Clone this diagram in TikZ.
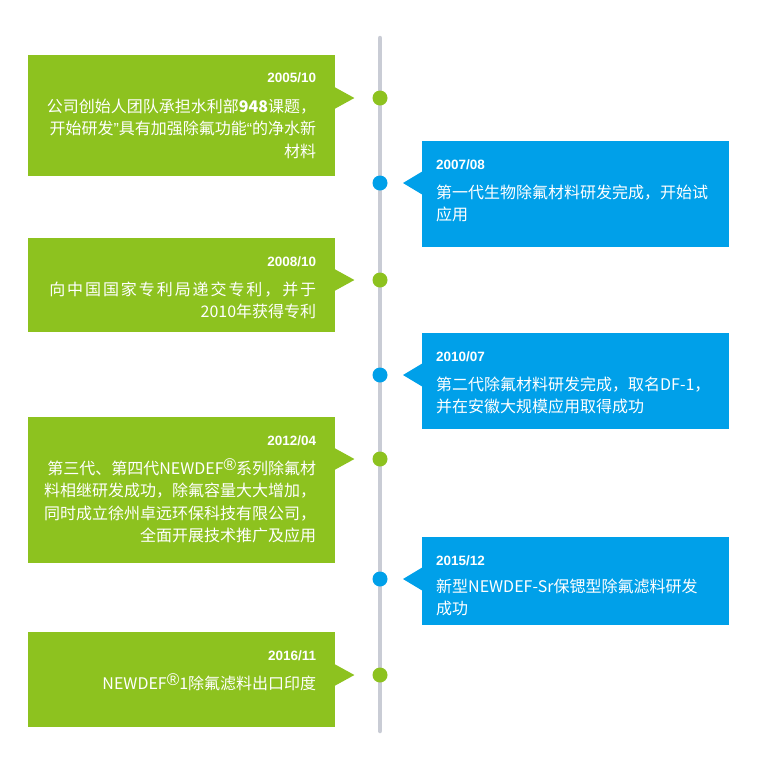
\documentclass[tikz,border=0pt]{standalone}
\usepackage{fontspec}
\setmainfont{Noto Sans CJK SC}
\newfontfamily\datefont{Liberation Sans}
\usetikzlibrary{positioning}

\definecolor{leafgreen}{HTML}{8DC21F}
\definecolor{skyblue}{HTML}{00A0E9}
\definecolor{railgray}{HTML}{C9CCD5}

\newcommand{\evdate}[1]{{\datefont\bfseries\fontsize{13.5}{15}\selectfont #1}}
\newcommand{\regmark}{\raisebox{4pt}{\datefont\fontsize{17}{17}\selectfont ®}}
\newcommand{\narrowq}[1]{{\datefont #1}}

\begin{document}
\begin{tikzpicture}[
    x=1pt, y=-1pt,
    gbox/.style={
        rectangle,
        fill=leafgreen,
        minimum width=307pt,
        anchor=north west,
        inner sep=0pt
    },
    bbox/.style={
        gbox,
        fill=skyblue
    },
    gtxt/.style={
        anchor=north east,
        align=right,
        text=white,
        inner sep=0pt,
        font=\fontsize{16}{22.5}\selectfont
    },
    btxt/.style={
        gtxt,
        anchor=north west,
        align=left
    },
    gdot/.style={
        circle,
        fill=leafgreen,
        minimum size=15pt,
        inner sep=0pt
    },
    bdot/.style={
        gdot,
        fill=skyblue
    },
    rail/.style={
        line width=4.5pt,
        color=railgray,
        line cap=round
    }
]

\useasboundingbox (0,0) rectangle (759,780);

% Timeline
\coordinate (top) at (380,38);
\coordinate (bottom) at (380,731);
\draw[rail] (top) -- (bottom);

% 2005/10
\node[gbox, minimum height=121pt] (ev1) at (28,55) {};
\node[gdot] (dot1) at (380,98) {};
\fill[leafgreen] (ev1.east |- dot1) ++(-1,-11) -- ++(20,11) -- ++(-20,11) -- cycle;
\node[gtxt] (txt1) at ([shift={(-19,18)}]ev1.north east) {
    \evdate{2005/10}\\[7pt]
    公司创始人团队承担水利部\textbf{948}课题，\\
    开始研发\narrowq{”}具有加强除氟功能\narrowq{“}的净水新\\
    材料
};

% 2007/08
\node[bbox, minimum height=106pt] (ev2) at (422,141) {};
\node[bdot] (dot2) at (380,183) {};
\fill[skyblue] (ev2.west |- dot2) ++(1,-12) -- ++(-20,12) -- ++(20,12) -- cycle;
\node[btxt] (txt2) at ([shift={(14,19)}]ev2.north west) {
    \evdate{2007/08}\\[6pt]
    第一代生物除氟材料研发完成，开始试\\
    应用
};

% 2008/10
\node[gbox, minimum height=94pt] (ev3) at (28,238) {};
\node[gdot] (dot3) at (380,280) {};
\fill[leafgreen] (ev3.east |- dot3) ++(-1,-11) -- ++(20,11) -- ++(-20,11) -- cycle;
\node[gtxt] (txt3) at ([shift={(-19,19)}]ev3.north east) {
    \evdate{2008/10}\\[6pt]
    {\addfontfeature{LetterSpace=12}向中国国家专利局递交专利，并于}\\
    2010年获得专利
};

% 2010/07
\node[bbox, minimum height=96pt] (ev4) at (422,333) {};
\node[bdot] (dot4) at (380,375) {};
\fill[skyblue] (ev4.west |- dot4) ++(1,-12) -- ++(-20,12) -- ++(20,12) -- cycle;
\node[btxt] (txt4) at ([shift={(14,19)}]ev4.north west) {
    \evdate{2010/07}\\[6pt]
    第二代除氟材料研发完成，取名DF-1，\\
    并在安徽大规模应用取得成功
};

% 2012/04
\node[gbox, minimum height=146pt] (ev5) at (28,417) {};
\node[gdot] (dot5) at (380,459) {};
\fill[leafgreen] (ev5.east |- dot5) ++(-1,-11) -- ++(20,11) -- ++(-20,11) -- cycle;
\node[gtxt] (txt5) at ([shift={(-19,19)}]ev5.north east) {
    \evdate{2012/04}\\[6pt]
    第三代、第四代NEWDEF\regmark 系列除氟材\\
    料相继研发成功，除氟容量大大增加，\\
    同时成立徐州卓远环保科技有限公司，\\
    全面开展技术推广及应用
};

% 2015/12
\node[bbox, minimum height=88pt] (ev6) at (422,537) {};
\node[bdot] (dot6) at (380,579) {};
\fill[skyblue] (ev6.west |- dot6) ++(1,-12) -- ++(-20,12) -- ++(20,12) -- cycle;
\node[btxt] (txt6) at ([shift={(14,19)}]ev6.north west) {
    \evdate{2015/12}\\[4pt]
    新型NEWDEF-Sr保锶型除氟滤料研发\\
    成功
};

% 2016/11
\node[gbox, minimum height=95pt] (ev7) at (28,632) {};
\node[gdot] (dot7) at (380,675) {};
\fill[leafgreen] (ev7.east |- dot7) ++(-1,-11) -- ++(20,11) -- ++(-20,11) -- cycle;
\node[gtxt] (txt7) at ([shift={(-19,19)}]ev7.north east) {
    \evdate{2016/11}\\[6pt]
    NEWDEF\regmark 1除氟滤料出口印度
};

\end{tikzpicture}
\end{document}
